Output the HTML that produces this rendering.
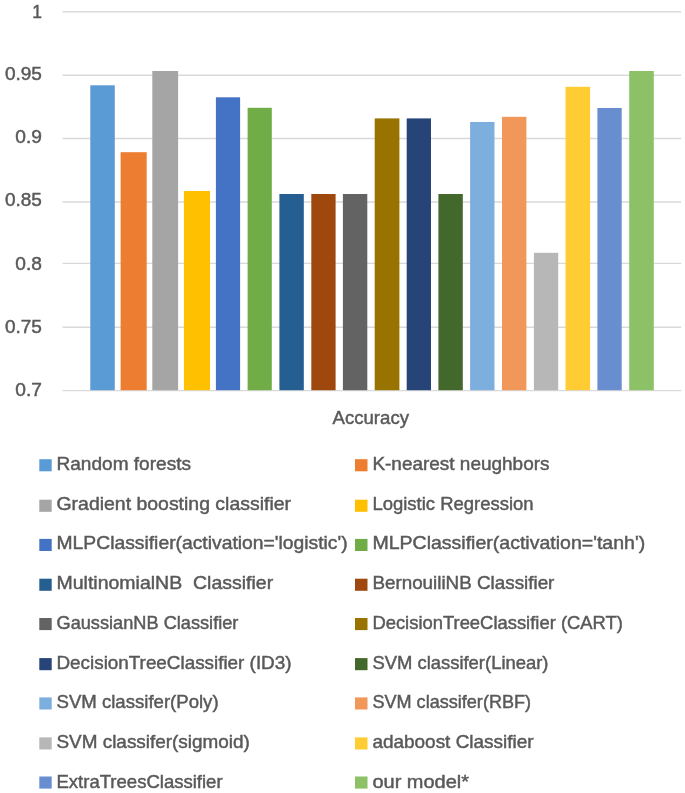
<!DOCTYPE html>
<html lang="en">
<head>
<meta charset="utf-8">
<title>Accuracy</title>
<style>
html,body{margin:0;padding:0;background:#fff;}
body{width:685px;height:793px;overflow:hidden;}
svg{display:block;}
text{font-family:"Liberation Sans",sans-serif;fill:#595959;stroke:#595959;stroke-width:0.45px;white-space:pre;}
</style>
</head>
<body>
<svg xmlns="http://www.w3.org/2000/svg" width="685" height="793" viewBox="0 0 685 793">
<rect x="0" y="0" width="685" height="793" fill="#ffffff"/>
<g stroke="#d9d9d9" stroke-width="1.4" fill="none">
<line x1="62.5" y1="11.8" x2="681.2" y2="11.8"/>
<line x1="62.5" y1="75.3" x2="681.2" y2="75.3"/>
<line x1="62.5" y1="138.5" x2="681.2" y2="138.5"/>
<line x1="62.5" y1="202.0" x2="681.2" y2="202.0"/>
<line x1="62.5" y1="263.4" x2="681.2" y2="263.4"/>
<line x1="62.5" y1="327.2" x2="681.2" y2="327.2"/>
<line x1="62.5" y1="390.6" x2="681.2" y2="390.6"/>
</g>
<g>
<rect x="90.3" y="85.3" width="24.5" height="304.9" fill="#5B9BD5"/>
<rect x="120.6" y="152.2" width="26.1" height="238.0" fill="#ED7D31"/>
<rect x="152.3" y="71.0" width="25.8" height="319.2" fill="#A5A5A5"/>
<rect x="183.9" y="191.0" width="26.1" height="199.2" fill="#FFC000"/>
<rect x="215.9" y="97.3" width="24.2" height="292.9" fill="#4472C4"/>
<rect x="247.6" y="107.8" width="24.2" height="282.4" fill="#70AD47"/>
<rect x="279.4" y="194.0" width="24.4" height="196.2" fill="#255E91"/>
<rect x="311.3" y="194.0" width="24.3" height="196.2" fill="#9E480E"/>
<rect x="342.9" y="194.0" width="24.4" height="196.2" fill="#636363"/>
<rect x="374.7" y="118.4" width="24.7" height="271.8" fill="#997300"/>
<rect x="406.7" y="118.4" width="24.3" height="271.8" fill="#264478"/>
<rect x="438.4" y="194.0" width="24.4" height="196.2" fill="#43682B"/>
<rect x="470.1" y="122.0" width="24.4" height="268.2" fill="#7CAFDD"/>
<rect x="502.0" y="116.8" width="24.4" height="273.4" fill="#F1975A"/>
<rect x="533.9" y="252.8" width="24.3" height="137.4" fill="#B7B7B7"/>
<rect x="565.5" y="86.8" width="24.6" height="303.4" fill="#FFCD33"/>
<rect x="597.4" y="108.0" width="24.3" height="282.2" fill="#698ED0"/>
<rect x="629.2" y="71.0" width="24.6" height="319.2" fill="#8CC168"/>
</g>
<g font-size="17.5" text-anchor="end">
<text x="41.9" y="17.7">1</text>
<text x="41.9" y="79.5" textLength="37.0" lengthAdjust="spacingAndGlyphs">0.95</text>
<text x="41.9" y="142.7" textLength="26.6" lengthAdjust="spacingAndGlyphs">0.9</text>
<text x="41.9" y="206.2" textLength="37.0" lengthAdjust="spacingAndGlyphs">0.85</text>
<text x="41.9" y="269.7" textLength="26.6" lengthAdjust="spacingAndGlyphs">0.8</text>
<text x="41.9" y="332.7" textLength="37.0" lengthAdjust="spacingAndGlyphs">0.75</text>
<text x="41.9" y="396.4" textLength="26.6" lengthAdjust="spacingAndGlyphs">0.7</text>
</g>
<text x="332.5" y="423.5" font-size="18.1" textLength="76.5" lengthAdjust="spacingAndGlyphs">Accuracy</text>
<g font-size="18.1">
<rect x="39.3" y="459.2" width="12.4" height="12.1" fill="#5B9BD5"/>
<text x="56.5" y="470.3" textLength="134.5" lengthAdjust="spacingAndGlyphs" xml:space="preserve">Random forests</text>
<rect x="355.0" y="459.2" width="12.5" height="12.1" fill="#ED7D31"/>
<text x="372.4" y="470.3" textLength="177.1" lengthAdjust="spacingAndGlyphs" xml:space="preserve">K-nearest neughbors</text>
<rect x="39.3" y="499.7" width="12.4" height="12.1" fill="#A5A5A5"/>
<text x="56.5" y="509.6" textLength="234.5" lengthAdjust="spacingAndGlyphs" xml:space="preserve">Gradient boosting classifier</text>
<rect x="355.0" y="499.7" width="12.5" height="12.1" fill="#FFC000"/>
<text x="372.4" y="509.6" textLength="161.2" lengthAdjust="spacingAndGlyphs" xml:space="preserve">Logistic Regression</text>
<rect x="39.3" y="538.9" width="12.4" height="12.1" fill="#4472C4"/>
<text x="56.5" y="549.4" textLength="291.1" lengthAdjust="spacingAndGlyphs" xml:space="preserve">MLPClassifier(activation='logistic')</text>
<rect x="355.0" y="538.9" width="12.5" height="12.1" fill="#70AD47"/>
<text x="372.4" y="549.4" textLength="272.8" lengthAdjust="spacingAndGlyphs" xml:space="preserve">MLPClassifier(activation='tanh')</text>
<rect x="39.3" y="578.7" width="12.4" height="12.1" fill="#255E91"/>
<text x="56.5" y="589.1" textLength="216.7" lengthAdjust="spacingAndGlyphs" xml:space="preserve">MultinomialNB  Classifier</text>
<rect x="355.0" y="578.7" width="12.5" height="12.1" fill="#9E480E"/>
<text x="372.4" y="589.1" textLength="182.0" lengthAdjust="spacingAndGlyphs" xml:space="preserve">BernouiliNB Classifier</text>
<rect x="39.3" y="618.0" width="12.4" height="12.1" fill="#636363"/>
<text x="56.5" y="628.9" textLength="181.9" lengthAdjust="spacingAndGlyphs" xml:space="preserve">GaussianNB Classifier</text>
<rect x="355.0" y="618.0" width="12.5" height="12.1" fill="#997300"/>
<text x="372.4" y="628.9" textLength="250.5" lengthAdjust="spacingAndGlyphs" xml:space="preserve">DecisionTreeClassifier (CART)</text>
<rect x="39.3" y="658.1" width="12.4" height="12.1" fill="#264478"/>
<text x="56.5" y="668.6" textLength="235.0" lengthAdjust="spacingAndGlyphs" xml:space="preserve">DecisionTreeClassifier (ID3)</text>
<rect x="355.0" y="658.1" width="12.5" height="12.1" fill="#43682B"/>
<text x="372.4" y="668.6" textLength="176.1" lengthAdjust="spacingAndGlyphs" xml:space="preserve">SVM classifer(Linear)</text>
<rect x="39.3" y="697.4" width="12.4" height="12.1" fill="#7CAFDD"/>
<text x="56.5" y="708.3" textLength="162.1" lengthAdjust="spacingAndGlyphs" xml:space="preserve">SVM classifer(Poly)</text>
<rect x="355.0" y="697.4" width="12.5" height="12.1" fill="#F1975A"/>
<text x="372.4" y="708.3" textLength="158.7" lengthAdjust="spacingAndGlyphs" xml:space="preserve">SVM classifer(RBF)</text>
<rect x="39.3" y="737.4" width="12.4" height="12.1" fill="#B7B7B7"/>
<text x="56.5" y="747.8" textLength="193.3" lengthAdjust="spacingAndGlyphs" xml:space="preserve">SVM classifer(sigmoid)</text>
<rect x="355.0" y="737.4" width="12.5" height="12.1" fill="#FFCD33"/>
<text x="372.4" y="747.8" textLength="161.2" lengthAdjust="spacingAndGlyphs" xml:space="preserve">adaboost Classifier</text>
<rect x="39.3" y="776.5" width="12.4" height="12.1" fill="#698ED0"/>
<text x="56.5" y="788.2" textLength="166.1" lengthAdjust="spacingAndGlyphs" xml:space="preserve">ExtraTreesClassifier</text>
<rect x="355.0" y="776.5" width="12.5" height="12.1" fill="#8CC168"/>
<text x="372.4" y="788.2" textLength="96.7" lengthAdjust="spacingAndGlyphs" xml:space="preserve">our model*</text>
</g>
</svg>
</body>
</html>
